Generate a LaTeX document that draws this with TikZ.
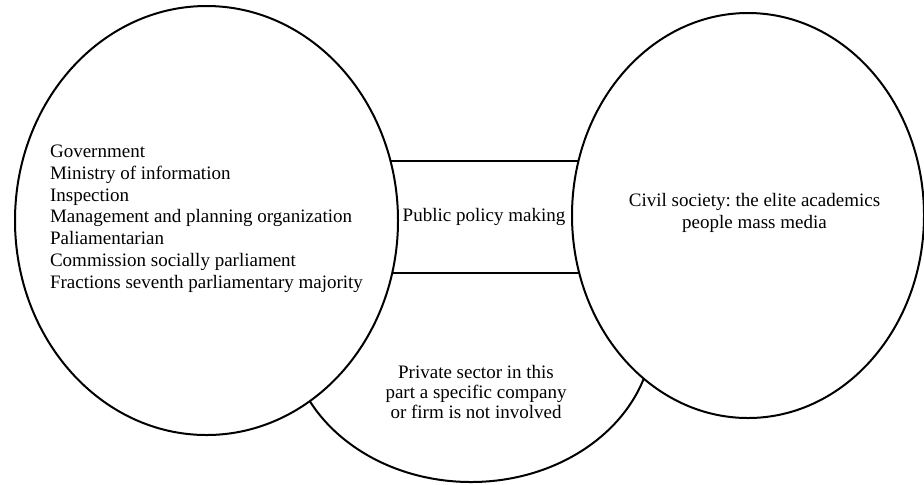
\documentclass[tikz,border=0pt]{standalone}
\usepackage{fontspec}
\setmainfont{Liberation Serif}
\frenchspacing
\usetikzlibrary{shapes.geometric, positioning}

\begin{document}
\begin{tikzpicture}[x=0.5pt,y=-0.5pt,on grid,
    sphere/.style={ellipse,draw,fill=white,line width=1pt,inner sep=0pt},
    band/.style={rectangle,draw,fill=white,line width=1.3pt,inner sep=0pt,
        minimum width=114pt,minimum height=56pt,font=\fontsize{9.5}{10.9}\selectfont},
    caption/.style={inner sep=0pt,font=\fontsize{9.5}{10.9}\selectfont}]
    \useasboundingbox (0,0) rectangle (924,484);
    \node[sphere,minimum width=182pt,minimum height=151pt] (private) at (471,331) {};
    \node[band] (policy) [above right=57pt and 6.5pt of private] {Public policy making};
    \node[sphere,minimum width=191.5pt,minimum height=214.5pt] (gov) [below left=1.75pt and 138.75pt of policy] {};
    \node[sphere,minimum width=176pt,minimum height=202.5pt] (civil) [above right=0.75pt and 132pt of policy] {};
    % texts of the three spheres
    \node[caption,align=left] (govtext) [above=0.9pt of gov]
        {Government\\Ministry of information\\Inspection\\Management and planning organization\\
         Paliamentarian\\Commission socially parliament\\Fractions seventh parliamentary majority};
    \node[caption,align=center,font=\fontsize{9.5}{11}\selectfont] (civiltext) [above right=1.25pt and 3.25pt of civil]
        {Civil society: the elite academics\\people mass media};
    \node[caption,align=center,font=\fontsize{9.5}{10}\selectfont] (privatetext) [below right=30.5pt and 2.5pt of private]
        {Private sector in this\\part a specific company\\or firm is not involved};
\end{tikzpicture}
\end{document}
